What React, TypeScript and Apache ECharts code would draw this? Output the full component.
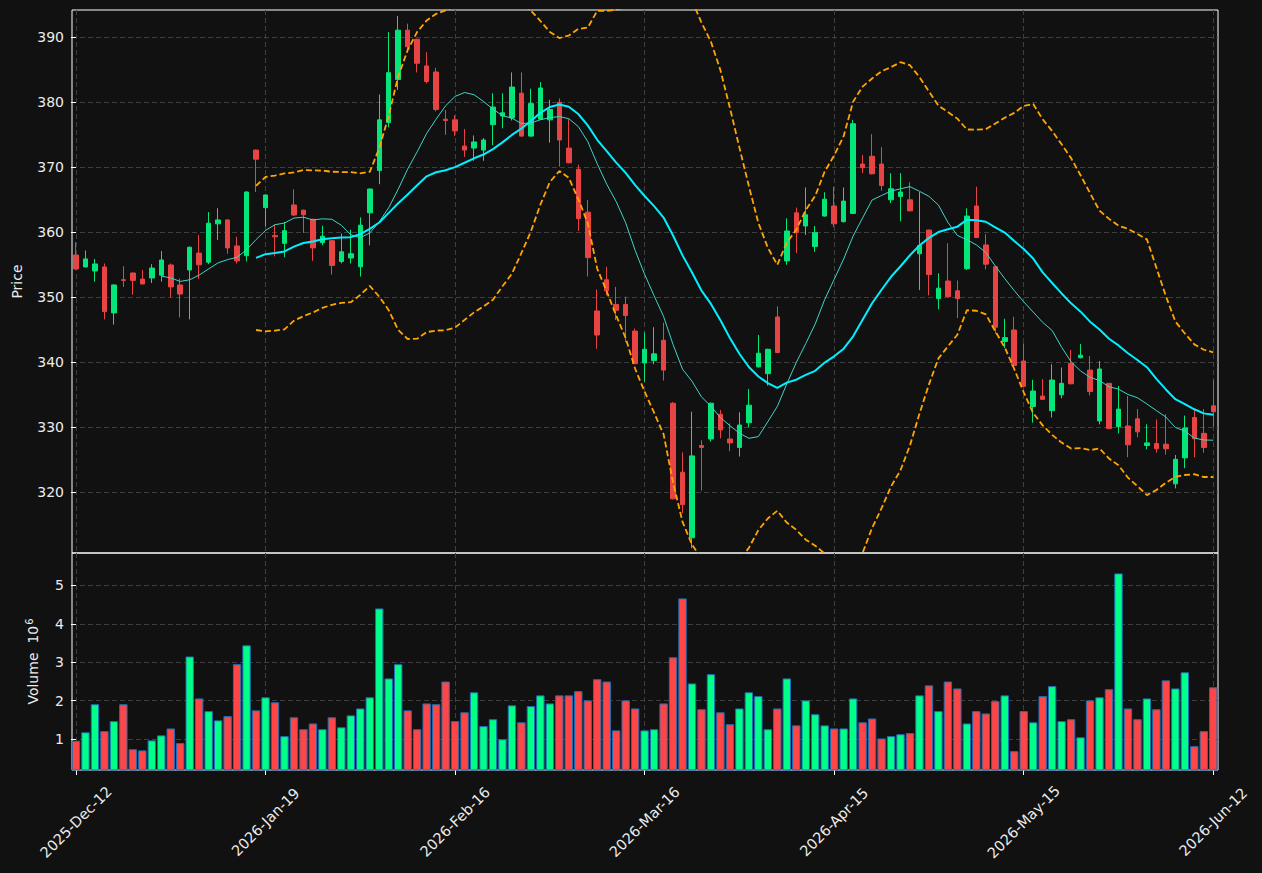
import React, { useEffect, useRef } from "react";
import * as echarts from "echarts";

// ---- Data ----
const opens = [
  356.5, 354.67, 354.05, 354.67, 347.6, 352.7, 353.74, 352.8, 352.97, 353.4,
  354.97, 351.9, 354.2, 356.8, 355.4, 361.3, 361.9, 357.9, 356.4, 372.65,
  363.79, 359.5, 358.3, 364.2, 363.4, 362.0, 358.4, 358.7, 355.5, 356.05,
  354.7, 363.0, 369.5, 376.9, 383.5, 391.1, 389.7, 385.6, 384.66, 377.4,
  377.3, 373.27, 372.96, 372.65, 376.55, 377.9, 377.6, 381.4, 374.8, 377.4,
  377.3, 380.0, 372.96, 369.7, 363.1, 347.9, 352.7, 348.9, 348.9, 344.8,
  339.9, 340.25, 343.4, 333.7, 323.1, 313.0, 327.2, 328.2, 332.0, 328.2,
  326.9, 330.7, 339.3, 338.25, 346.97, 355.6, 363.0, 360.97, 357.8, 362.5,
  364.05, 361.64, 362.9, 370.5, 371.7, 370.5, 365.0, 365.5, 365.0, 356.7,
  360.35, 349.8, 352.5, 351.0, 354.4, 364.05, 358.05, 354.7, 343.2, 344.97,
  340.2, 333.2, 334.8, 332.56, 335.0, 339.8, 340.7, 338.8, 330.97, 336.76,
  330.1, 330.2, 331.3, 327.2, 327.5, 327.4, 321.3, 325.3, 331.5, 329.07,
  333.3,
];
const closes = [
  354.36, 355.9, 355.13, 347.8, 351.9, 352.6, 352.6, 352.05, 354.5, 355.74,
  351.6, 350.5, 357.7, 355.0, 361.4, 361.9, 357.6, 355.6, 366.2, 371.25,
  365.74, 359.3, 360.25, 362.66, 362.7, 357.6, 359.4, 354.9, 357.0, 356.7,
  361.1, 366.66, 377.3, 384.56, 391.1, 388.56, 386.0, 383.2, 378.9, 377.2,
  375.6, 372.65, 373.9, 374.2, 379.27, 378.4, 382.35, 374.8, 379.8, 382.2,
  378.9, 374.2, 370.7, 362.1, 356.1, 344.2, 351.0, 348.0, 347.2, 339.8,
  342.0, 341.3, 338.8, 319.0, 318.1, 325.6, 326.9, 333.7, 329.6, 327.6,
  330.35, 333.4, 341.4, 342.0, 341.5, 360.2, 359.95, 362.7, 359.95, 365.1,
  361.3, 364.8, 376.7, 369.95, 369.0, 367.2, 366.7, 366.2, 363.3, 357.95,
  353.5, 351.4, 350.1, 349.8, 362.5, 359.2, 355.1, 345.4, 343.8, 339.5,
  336.3, 335.58, 334.3, 337.27, 336.76, 336.7, 341.1, 335.5, 338.97, 329.8,
  332.8, 327.3, 329.3, 327.6, 326.7, 326.7, 325.07, 329.9, 328.25, 326.9,
  332.4,
];
const lows = [
  354.2, 354.6, 352.4, 346.6, 345.8, 351.6, 350.4, 352.0, 352.2, 352.4,
  350.0, 346.9, 346.6, 352.8, 355.1, 358.8, 356.7, 355.2, 355.5, 366.2,
  360.9, 356.3, 356.15, 362.5, 359.9, 355.6, 358.0, 353.5, 355.2, 355.2,
  353.2, 358.0, 367.4, 376.15, 381.9, 387.8, 384.6, 382.9, 378.6, 375.0,
  374.8, 371.6, 371.0, 371.0, 373.4, 376.0, 377.2, 374.7, 374.7, 377.3,
  373.8, 370.1, 370.6, 360.2, 353.2, 342.1, 350.3, 346.5, 343.1, 339.7,
  337.0, 339.7, 337.2, 318.9, 316.8, 311.4, 320.25, 327.8, 328.3, 326.3,
  325.5, 330.0, 339.2, 336.4, 341.4, 355.0, 356.8, 359.6, 357.0, 362.4,
  360.8, 361.5, 362.8, 369.1, 368.9, 366.4, 364.5, 361.7, 363.2, 351.1,
  350.3, 348.15, 350.0, 346.8, 354.2, 359.1, 354.3, 344.35, 342.2, 339.4,
  336.2, 330.7, 334.2, 331.5, 334.45, 336.6, 340.6, 334.9, 330.45, 329.7,
  329.07, 325.4, 328.45, 326.6, 326.1, 325.8, 320.6, 323.7, 325.4, 326.1,
  330.1,
];
const highs = [
  358.46, 357.2, 355.9, 355.2, 352.0, 354.8, 353.8, 354.2, 355.1, 357.1,
  355.2, 352.9, 357.8, 359.6, 363.1, 363.7, 362.0, 359.3, 366.3, 372.7,
  365.8, 361.2, 361.6, 366.6, 363.5, 362.1, 361.0, 358.8, 359.8, 360.4,
  362.3, 366.7, 381.2, 390.8, 393.3, 392.1, 389.8, 387.7, 385.3, 378.8,
  378.0, 375.9, 374.9, 374.5, 381.4, 381.4, 384.6, 384.6, 382.1, 383.1,
  380.4, 380.6, 377.4, 370.4, 364.96, 351.2, 354.7, 351.6, 350.1, 345.2,
  344.6, 345.4, 346.1, 333.9, 326.15, 332.4, 328.0, 333.8, 332.66, 330.6,
  332.3, 335.9, 344.2, 342.1, 348.6, 362.15, 363.8, 366.9, 360.97, 366.15,
  367.0, 366.9, 377.3, 371.9, 375.1, 373.1, 369.1, 369.1, 367.7, 366.2,
  360.4, 353.7, 358.3, 352.6, 363.7, 367.0, 359.7, 354.8, 346.7, 347.0,
  342.9, 337.3, 337.4, 339.7, 339.2, 341.9, 342.8, 340.97, 340.2, 336.8,
  336.35, 334.8, 332.8, 330.45, 331.2, 332.0, 325.74, 331.8, 332.7, 332.8,
  337.3,
];
// volume in millions of shares
const volumes = [
  0.96, 1.18, 1.91, 1.21, 1.47, 1.91, 0.74, 0.71, 0.97, 1.1,
  1.28, 0.9, 3.15, 2.06, 1.73, 1.49, 1.6, 2.95, 3.44, 1.75,
  2.09, 1.96, 1.08, 1.57, 1.26, 1.41, 1.26, 1.57, 1.31, 1.62,
  1.8, 2.09, 4.4, 2.58, 2.95, 1.75, 1.26, 1.93, 1.91, 2.5,
  1.47, 1.7, 2.22, 1.34, 1.52, 1.0, 1.88, 1.44, 1.86, 2.14,
  1.93, 2.14, 2.14, 2.25, 2.01, 2.56, 2.5, 1.23, 2.01, 1.8,
  1.23, 1.26, 1.93, 3.13, 4.66, 2.45, 1.78, 2.69, 1.7, 1.39,
  1.8, 2.22, 2.12, 1.26, 1.8, 2.58, 1.36, 2.01, 1.65, 1.36,
  1.28, 1.28, 2.06, 1.44, 1.54, 1.02, 1.08, 1.13, 1.16, 2.14,
  2.4, 1.73, 2.5, 2.32, 1.41, 1.73, 1.67, 1.99, 2.14, 0.69,
  1.73, 1.44, 2.12, 2.38, 1.47, 1.52, 1.05, 2.01, 2.09, 2.3,
  5.31, 1.8, 1.52, 2.06, 1.78, 2.53, 2.32, 2.74, 0.82, 1.21,
  2.35,
];
const tickIndices = [0, 20, 40, 60, 80, 100, 120];
const tickLabels = [
  "2025-Dec-12",
  "2026-Jan-19",
  "2026-Feb-16",
  "2026-Mar-16",
  "2026-Apr-15",
  "2026-May-15",
  "2026-Jun-12",
];
const priceTicks = [320, 330, 340, 350, 360, 370, 380, 390];
const volumeTicks = [1, 2, 3, 4, 5];

// ---- derived indicators ----
function sma(values: number[], n: number): number[][] {
  const out: number[][] = [];
  for (let i = n - 1; i < values.length; i++) {
    let s = 0;
    for (let j = i - n + 1; j <= i; j++) s += values[j];
    out.push([i, s / n]);
  }
  return out;
}
function bollinger(values: number[], n: number, k: number) {
  const upper: number[][] = [];
  const lower: number[][] = [];
  for (let i = n - 1; i < values.length; i++) {
    let s = 0;
    for (let j = i - n + 1; j <= i; j++) s += values[j];
    const m = s / n;
    let v = 0;
    for (let j = i - n + 1; j <= i; j++) v += (values[j] - m) * (values[j] - m);
    const sd = Math.sqrt(v / (n - 1));
    upper.push([i, m + k * sd]);
    lower.push([i, m - k * sd]);
  }
  return { upper, lower };
}

const UP_CANDLE = "#04e57a";
const DOWN_CANDLE = "#e84444";
const UP_VOL = "#00ff88";
const DOWN_VOL = "#ff4545";
const TEXT = "#ececec";
const GRIDLINE = "#3e3e3e";

export default function App() {
  const ref = useRef<HTMLDivElement>(null);

  useEffect(() => {
    if (!ref.current) return;
    const chart = echarts.init(ref.current, null, { renderer: "svg" });

    const candleData = opens.map((o, i) => [i, o, closes[i], lows[i], highs[i]]);
    const volData = volumes.map((v, i) => ({
      value: [i, v],
      itemStyle: { color: closes[i] >= opens[i] ? UP_VOL : DOWN_VOL },
    }));
    const ma10 = sma(closes, 10);
    const ma20 = sma(closes, 20);
    const bb = bollinger(closes, 20, 2);

    const xMin = -0.42;
    const xMax = 120.5;
    const dashed = { color: GRIDLINE, type: [5, 3] as number[], width: 1 };

    const option: any = {
      animation: false,
      backgroundColor: "#111111",
      grid: [
        {
          left: 72,
          top: 10,
          right: 44,
          height: 543,
          show: true,
          borderColor: "#ffffff",
          borderWidth: 1,
          backgroundColor: "transparent",
        },
        {
          left: 72,
          top: 553,
          right: 44,
          height: 217,
          show: true,
          borderColor: "#ffffff",
          borderWidth: 1,
          backgroundColor: "transparent",
        },
      ],
      xAxis: [
        {
          type: "value",
          gridIndex: 0,
          min: xMin,
          max: xMax,
          axisLine: { show: false },
          axisTick: { show: false, customValues: tickIndices },
          axisLabel: { show: false, customValues: tickIndices },
          splitLine: { show: true, lineStyle: dashed },
        },
        {
          type: "value",
          gridIndex: 1,
          min: xMin,
          max: xMax,
          axisLine: { show: false },
          axisTick: {
            show: true,
            customValues: tickIndices,
            length: 5,
            lineStyle: { color: "#ffffff", width: 1 },
          },
          axisLabel: {
            show: true,
            customValues: tickIndices,
            rotate: 45,
            margin: 52,
            align: "center",
            verticalAlign: "middle",
            color: TEXT,
            fontSize: 14.5,
            fontFamily: "DejaVu Sans",
            hideOverlap: false,
            formatter: (v: number) => {
              const k = tickIndices.indexOf(Math.round(v));
              return k >= 0 ? tickLabels[k] : "";
            },
          },
          splitLine: { show: true, lineStyle: dashed },
        },
      ],
      yAxis: [
        {
          type: "value",
          gridIndex: 0,
          min: 310.66,
          max: 394.2,
          name: "Price",
          nameLocation: "middle",
          nameGap: 48,
          nameRotate: 90,
          nameTextStyle: { color: TEXT, fontSize: 14, fontFamily: "DejaVu Sans" },
          axisLine: { show: false },
          axisTick: {
            show: true,
            customValues: priceTicks,
            length: 5,
            lineStyle: { color: "#ffffff", width: 1 },
          },
          axisLabel: {
            customValues: priceTicks,
            color: TEXT,
            fontSize: 14,
            fontFamily: "DejaVu Sans",
            margin: 8,
          },
          splitLine: { show: true, lineStyle: dashed },
        },
        {
          type: "value",
          gridIndex: 1,
          min: 0.2,
          max: 5.84,
          name: "Volume  10{s|6}",
          nameLocation: "middle",
          nameGap: 30,
          nameRotate: 90,
          nameTextStyle: {
            color: TEXT,
            fontSize: 14,
            fontFamily: "DejaVu Sans",
            rich: {
              s: {
                color: TEXT,
                fontSize: 10,
                fontFamily: "DejaVu Sans",
                padding: [0, 0, 8, 1],
              },
            },
          },
          axisLine: { show: false },
          axisTick: {
            show: true,
            customValues: volumeTicks,
            length: 5,
            lineStyle: { color: "#ffffff", width: 1 },
          },
          axisLabel: {
            customValues: volumeTicks,
            color: TEXT,
            fontSize: 14,
            fontFamily: "DejaVu Sans",
            margin: 8,
          },
          splitLine: { show: true, lineStyle: dashed },
        },
      ],
      series: [
        {
          type: "candlestick",
          xAxisIndex: 0,
          yAxisIndex: 0,
          data: candleData,
          barWidth: 5,
          itemStyle: {
            color: UP_CANDLE,
            color0: DOWN_CANDLE,
            borderColor: UP_CANDLE,
            borderColor0: DOWN_CANDLE,
            borderWidth: 1,
          },
          z: 2,
        },
        {
          type: "line",
          name: "MA10",
          xAxisIndex: 0,
          yAxisIndex: 0,
          data: ma10,
          showSymbol: false,
          symbol: "none",
          lineStyle: { color: "#3ed6c8", width: 1 },
          z: 3,
        },
        {
          type: "line",
          name: "MA20",
          xAxisIndex: 0,
          yAxisIndex: 0,
          data: ma20,
          showSymbol: false,
          symbol: "none",
          lineStyle: { color: "#00f0ff", width: 2 },
          z: 4,
        },
        {
          type: "line",
          name: "BB upper",
          xAxisIndex: 0,
          yAxisIndex: 0,
          data: bb.upper,
          showSymbol: false,
          symbol: "none",
          lineStyle: { color: "#ffa500", width: 1.8, type: [6, 3] },
          z: 4,
        },
        {
          type: "line",
          name: "BB lower",
          xAxisIndex: 0,
          yAxisIndex: 0,
          data: bb.lower,
          showSymbol: false,
          symbol: "none",
          lineStyle: { color: "#ffa500", width: 1.8, type: [6, 3] },
          z: 4,
        },
        {
          type: "bar",
          name: "Volume",
          xAxisIndex: 1,
          yAxisIndex: 1,
          data: volData,
          barWidth: 8.4,
          itemStyle: { borderColor: "#1f6fb4", borderWidth: 1 },
        },
      ],
    };

    chart.setOption(option);
    return () => {
      chart.dispose();
    };
  }, []);

  return (
    <div
      ref={ref}
      style={{
        position: "fixed",
        left: 0,
        top: 0,
        width: 1262,
        height: 873,
        background: "#111111",
      }}
    />
  );
}
